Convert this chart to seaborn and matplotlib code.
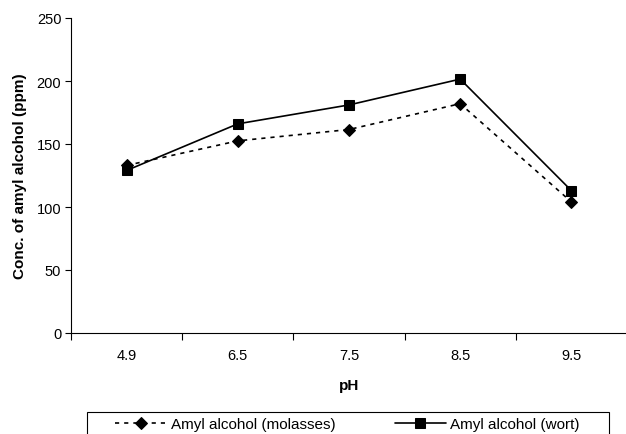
import numpy as np
import pandas as pd
import matplotlib
matplotlib.use("Agg")
import matplotlib.pyplot as plt
from matplotlib.patches import Rectangle
import seaborn as sns

ph_labels = ["4.9", "6.5", "7.5", "8.5", "9.5"]
molasses = [133, 152.5, 161.5, 182, 104]
wort = [129, 166, 181, 201.5, 113]

sns.set_theme(style="white")
plt.rcParams['font.family'] = ['Liberation Sans', 'DejaVu Sans']
plt.rcParams.update({"text.color": "black", "axes.labelcolor": "black",
                     "xtick.color": "black", "ytick.color": "black"})

df = pd.DataFrame({
    "idx": list(range(len(ph_labels))) * 2,
    "val": molasses + wort,
    "series": ["Amyl alcohol (molasses)"] * len(ph_labels) + ["Amyl alcohol (wort)"] * len(ph_labels),
})

W, H = 626, 435
fig = plt.figure(figsize=(W / 100, H / 100), dpi=100)
ax = fig.add_axes([71 / W, 1 - 334 / H, (627 - 71) / W, (334 - 19) / H])

d1 = df[df.series == "Amyl alcohol (molasses)"]
d2 = df[df.series == "Amyl alcohol (wort)"]
sns.lineplot(data=d1, x="idx", y="val", ax=ax, color="black", lw=1.2,
             linestyle=(0, (2.5, 3)), marker="D", markersize=7.5,
             markeredgecolor="black", label="Amyl alcohol (molasses)", legend=False)
sns.lineplot(data=d2, x="idx", y="val", ax=ax, color="black", lw=1.2,
             linestyle="-", marker="s", markersize=9,
             markeredgecolor="black", label="Amyl alcohol (wort)", legend=False)

ax.set_xlim(-0.5, 4.5)
ax.set_ylim(0, 250)
ax.set_yticks(np.arange(0, 251, 50))
ax.tick_params(axis="y", which="major", direction="out", length=4, width=0.8,
               labelsize=10.5, pad=3, left=True)
ax.set_xticks(np.arange(-0.5, 5, 1))
ax.set_xticklabels([])
ax.set_xticks(range(len(ph_labels)), minor=True)
ax.set_xticklabels(ph_labels, minor=True)
ax.tick_params(axis="x", which="major", direction="out", length=5, width=0.8,
               bottom=True)
ax.tick_params(axis="x", which="minor", length=0, labelsize=10.5, pad=11)

for s in ["top", "right"]:
    ax.spines[s].set_visible(False)
for s in ["left", "bottom"]:
    ax.spines[s].set_color("black")
    ax.spines[s].set_linewidth(0.8)

ax.set_xlabel("pH", fontsize=11, fontweight="bold", labelpad=11)
ax.set_ylabel("Conc. of amyl alcohol (ppm)", fontsize=11, fontweight="bold", labelpad=7)

handles, labels = ax.get_legend_handles_labels()
for h in handles:
    h.set_markersize(h.get_markersize() * 0.85)
leg = fig.legend(handles, labels, ncol=2, loc="upper left",
                 bbox_to_anchor=(115 / W, 1 - 418 / H),
                 borderaxespad=0, borderpad=0, frameon=False,
                 handlelength=3.4, handletextpad=0.26, columnspacing=3.86,
                 fontsize=11)
fig.add_artist(Rectangle((87 / W, -10 / H), (609 - 87) / W, (H - 413 + 10) / H,
                         transform=fig.transFigure, fill=False,
                         edgecolor="black", linewidth=0.8))

fig.savefig("out.png", dpi=100)
